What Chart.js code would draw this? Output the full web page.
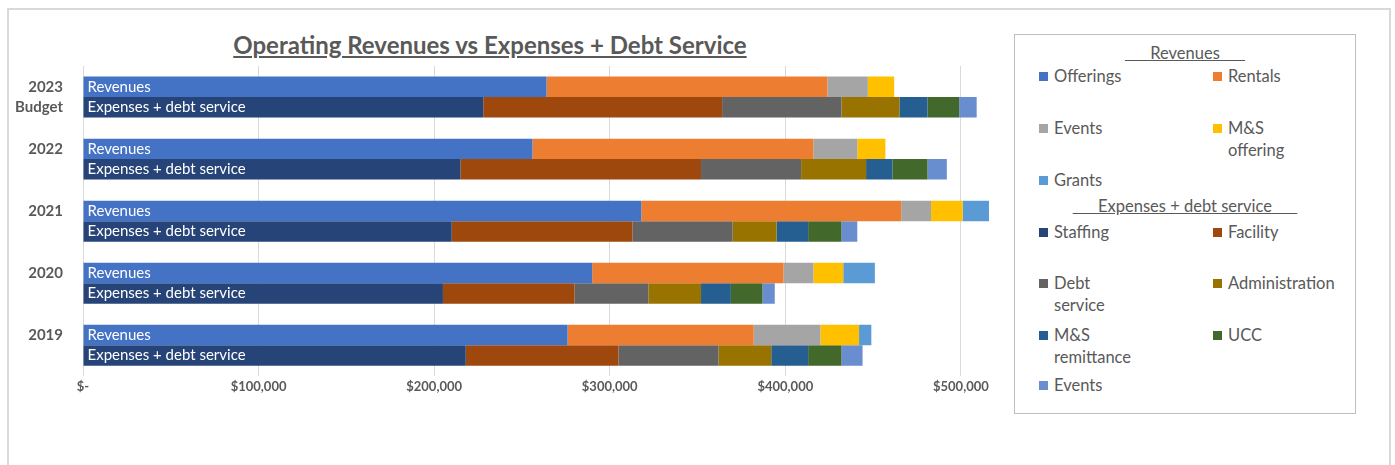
<!DOCTYPE html>
<html>
<head>
<meta charset="utf-8">
<script src="https://cdn.jsdelivr.net/npm/chart.js@4"></script>
<style>
  body { margin: 0; background: #fff; font-family: Lato, "Open Sans", sans-serif; }
  .frame { position: absolute; left: 7px; top: 8px; width: 1384px; height: 470px; border: 2px solid #d9d9d9; border-bottom: none; box-sizing: border-box; }
  .title { position: absolute; left: 83px; width: 814px; top: 30px; text-align: center; font-size: 24px; font-weight: bold; color: #595959; text-decoration: underline; }
  #wrap { position: absolute; left: 0; top: 0; width: 1000px; height: 465px; }
  .legend { position: absolute; left: 1014px; top: 34px; width: 342px; height: 380px; border: 1.5px solid #bfbfbf; box-sizing: border-box; color: #595959; font-size: 16.5px; }
  .legend h4 { margin: 0; font-size: 16.5px; font-weight: normal; text-align: center; text-decoration: underline; position: absolute; left: 0; right: 0; }
  .item { position: absolute; line-height: 22px; padding-left: 15px; }
  .item i { position: absolute; left: 0; top: 7px; width: 9px; height: 9px; }
</style>
</head>
<body>
<div class="frame"></div>
<div class="title">Operating Revenues vs Expenses + Debt Service</div>
<div id="wrap"><canvas id="chart"></canvas></div>
<div class="legend" id="legend"></div>
<script>
// Categories (top to bottom); second line keeps single labels level with the revenue bar
const years = [['2023', 'Budget'], ['2022', ''], ['2021', ''], ['2020', ''], ['2019', '']];

// Revenues
const offerings = [264000, 256000, 318000, 290000, 276000];
const rentals = [160000, 160000, 148000, 109000, 106000];
const revEvents = [23000, 25000, 17000, 17000, 38000];
const msOffering = [15000, 16000, 18000, 17000, 22000];
const grants = [0, 0, 15000, 18000, 7000];

// Expenses + debt service
const staffing = [228000, 215000, 210000, 205000, 218000];
const facility = [136000, 137000, 103000, 75000, 87000];
const debtService = [68000, 57000, 57000, 42000, 57000];
const administration = [33000, 37000, 25000, 30000, 30000];
const msRemittance = [16000, 15000, 18000, 17000, 21000];
const ucc = [18000, 20000, 19000, 18000, 19000];
const expEvents = [10000, 11000, 9000, 7000, 12000];

const xTicks = [0, 100000, 200000, 300000, 400000, 500000];

const revSeries = [
  { label: 'Offerings', data: offerings, color: '#4472c4' },
  { label: 'Rentals', data: rentals, color: '#ed7d31' },
  { label: 'Events', data: revEvents, color: '#a5a5a5' },
  { label: 'M&S offering', data: msOffering, color: '#ffc000' },
  { label: 'Grants', data: grants, color: '#5b9bd5' }
];
const expSeries = [
  { label: 'Staffing', data: staffing, color: '#264478' },
  { label: 'Facility', data: facility, color: '#9e480e' },
  { label: 'Debt service', data: debtService, color: '#636363' },
  { label: 'Administration', data: administration, color: '#997300' },
  { label: 'M&S remittance', data: msRemittance, color: '#255e91' },
  { label: 'UCC', data: ucc, color: '#43682b' },
  { label: 'Events', data: expEvents, color: '#698ed0' }
];

const datasets = [];
revSeries.forEach(s => datasets.push({ label: s.label, data: s.data, backgroundColor: s.color, stack: 'rev' }));
expSeries.forEach(s => datasets.push({ label: s.label, data: s.data, backgroundColor: s.color, stack: 'exp' }));

// white text inside the first segment of each stack
const barText = {
  id: 'barText',
  afterDatasetsDraw(chart) {
    const ctx = chart.ctx;
    ctx.save();
    ctx.fillStyle = '#fff';
    ctx.font = '15px Lato, sans-serif';
    ctx.textBaseline = 'middle';
    [[0, 'Revenues'], [revSeries.length, 'Expenses + debt service']].forEach(([idx, text]) => {
      chart.getDatasetMeta(idx).data.forEach(bar => {
        ctx.fillText(text, bar.base + 4, bar.y);
      });
    });
    ctx.restore();
  }
};

new Chart(document.getElementById('chart'), {
  type: 'bar',
  data: { labels: years, datasets },
  options: {
    indexAxis: 'y',
    responsive: true,
    maintainAspectRatio: false,
    animation: false,
    categoryPercentage: 0.66,
    barPercentage: 1,
    layout: { padding: { top: 66, right: 4, bottom: 67, left: 0 } },
    plugins: { legend: { display: false }, tooltip: { enabled: false } },
    scales: {
      x: {
        min: 0,
        max: 520000,
        stacked: true,
        afterBuildTicks: scale => { scale.ticks = xTicks.map(v => ({ value: v })); },
        grid: { color: '#d9d9d9', drawTicks: false },
        border: { display: false },
        ticks: {
          color: '#595959',
          font: { family: 'Lato', size: 13, weight: 'bold' },
          padding: 3,
          maxRotation: 0,
          callback: v => v === 0 ? '$-' : '$' + v.toLocaleString('en-US')
        }
      },
      y: {
        stacked: true,
        grid: { display: false },
        border: { display: false },
        afterFit: scale => { scale.width = 83; },
        ticks: {
          color: '#595959',
          padding: 12,
          font: { family: 'Lato', size: 15, weight: 'bold', lineHeight: 1.3 }
        }
      }
    }
  },
  plugins: [barText]
});

// HTML legend with two groups
const legend = document.getElementById('legend');
function addHeading(text, top) {
  const h = document.createElement('h4');
  h.innerHTML = '&nbsp;&nbsp;&nbsp;&nbsp;&nbsp;&nbsp;' + text + '&nbsp;&nbsp;&nbsp;&nbsp;&nbsp;&nbsp;';
  h.style.top = top + 'px';
  legend.appendChild(h);
}
function addItems(series, rowTops) {
  series.forEach((s, i) => {
    const d = document.createElement('div');
    d.className = 'item';
    d.style.left = (i % 2 === 0 ? 24 : 198) + 'px';
    d.style.top = rowTops[Math.floor(i / 2)] + 'px';
    d.style.width = (i % 2 === 0 ? 75 : 70) + 'px';
    d.innerHTML = '<i style="background:' + s.color + '"></i>' + s.label;
    legend.appendChild(d);
  });
}
addHeading('Revenues', 8);
addItems(revSeries, [30, 82, 134]);
addHeading('Expenses + debt service', 161);
addItems(expSeries, [186, 237, 289, 339]);
</script>
</body>
</html>
